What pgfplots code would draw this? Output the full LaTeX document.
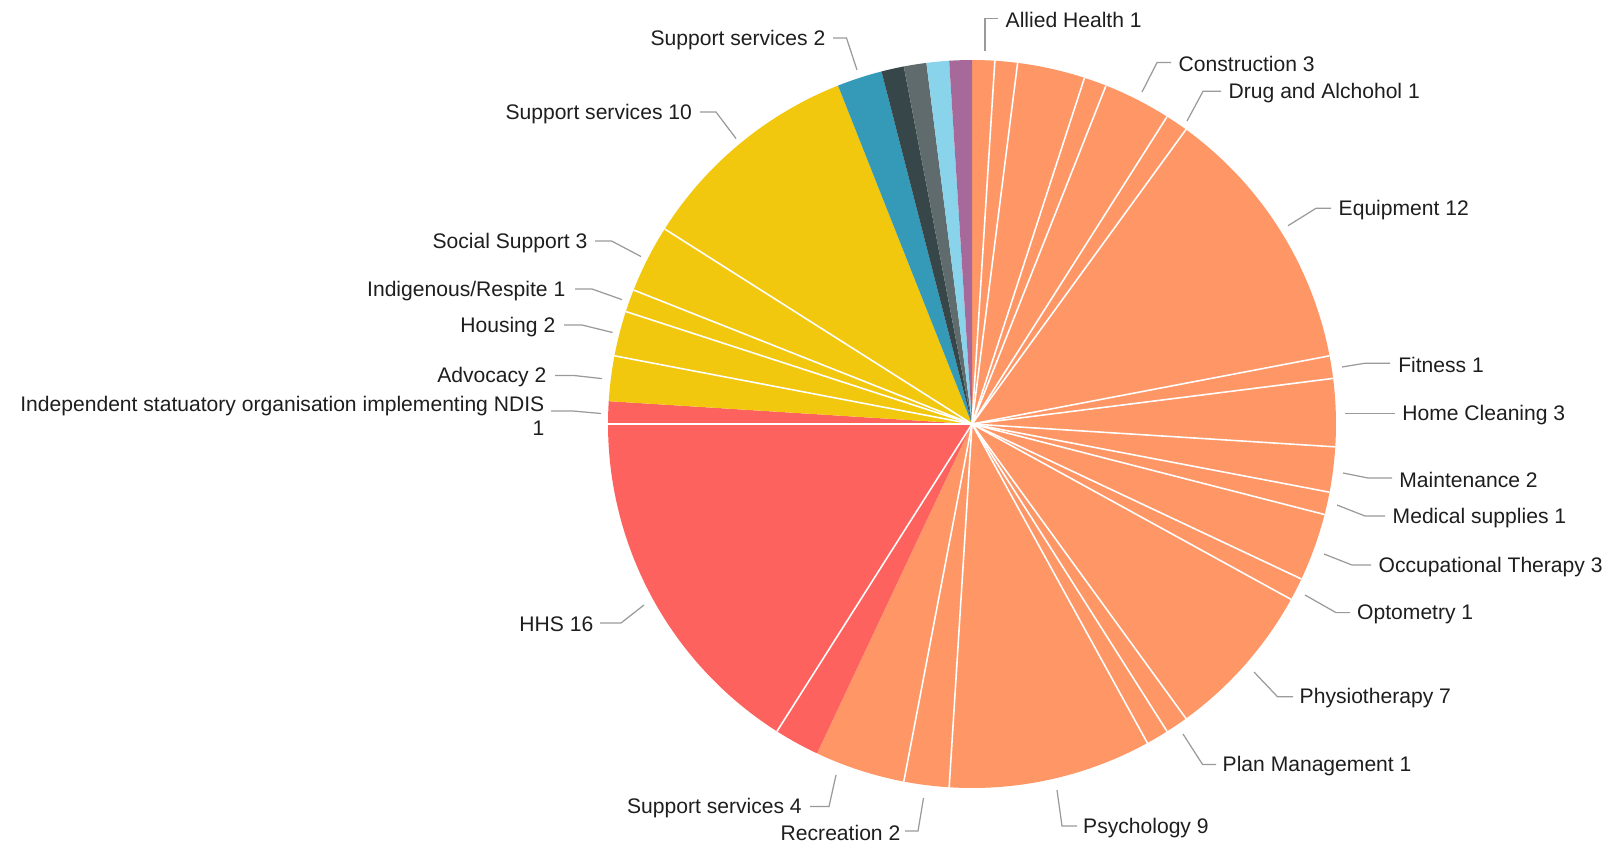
\documentclass[border=0pt]{standalone}
\usepackage{pgfplots}
\pgfplotsset{compat=1.18}
\usepackage{pgfplotstable}
\usepackage{fontspec}
\setmainfont{Liberation Sans}
\definecolor{cO}{HTML}{FE9666}
\definecolor{cR}{HTML}{FD625E}
\definecolor{cY}{HTML}{F2C80F}
\definecolor{cB}{HTML}{3599B8}
\definecolor{cD}{HTML}{374649}
\definecolor{cG}{HTML}{5F6B6D}
\definecolor{cL}{HTML}{8AD4EB}
\definecolor{cP}{HTML}{A66999}
\definecolor{txt}{HTML}{1E1E1E}
\definecolor{lead}{HTML}{9A9A9A}

\pgfplotstableread[col sep=comma]{
name,value,colour
Allied Health,1,cO
unlabelled,1,cO
unlabelled,3,cO
unlabelled,1,cO
Construction,3,cO
Drug and Alchohol,1,cO
Equipment,12,cO
Fitness,1,cO
Home Cleaning,3,cO
Maintenance,2,cO
Medical supplies,1,cO
Occupational Therapy,3,cO
Optometry,1,cO
Physiotherapy,7,cO
Plan Management,1,cO
unlabelled,1,cO
Psychology,9,cO
Recreation,2,cO
Support services,4,cO
unlabelled,2,cR
HHS,16,cR
Independent statuatory organisation implementing NDIS,1,cR
Advocacy,2,cY
Housing,2,cY
Indigenous/Respite,1,cY
Social Support,3,cY
Support services,10,cY
Support services,2,cB
unlabelled,1,cD
unlabelled,1,cG
unlabelled,1,cL
unlabelled,1,cP
}\piedata

\begin{document}
\begin{tikzpicture}[font=\fontsize{6.0}{6.8}\selectfont]
\begin{axis}[
  x=0.1mm, y=0.1mm,
  xmin=0, xmax=1609, ymin=0, ymax=844,
  y dir=reverse,
  hide axis, clip=false,
]
\path (axis cs:0,0) rectangle (axis cs:1609,844);
\pgfplotstablegetrowsof{\piedata}
\pgfmathtruncatemacro{\N}{\pgfplotsretval-1}
% sectors
\def\cum{0}
\pgfplotsforeachungrouped \i in {0,...,\N}{%
  \pgfplotstablegetelem{\i}{value}\of\piedata \edef\v{\pgfplotsretval}%
  \pgfplotstablegetelem{\i}{colour}\of\piedata \edef\c{\pgfplotsretval}%
  \pgfmathsetmacro{\a}{90-\cum*3.6}%
  \pgfmathsetmacro{\b}{90-(\cum+\v)*3.6}%
  \edef\temp{\noexpand\fill[\c] (axis cs:972,424) -- ++(\a:36.4mm) arc[start angle=\a, end angle=\b, radius=36.4mm] -- cycle;}%
  \temp
  \pgfmathsetmacro{\cum}{\cum+\v}%
}
% white separators between slices of the same colour
\def\cum{0}
\def\prevc{none}
\pgfplotsforeachungrouped \i in {0,...,\N}{%
  \pgfplotstablegetelem{\i}{value}\of\piedata \edef\v{\pgfplotsretval}%
  \pgfplotstablegetelem{\i}{colour}\of\piedata \edef\c{\pgfplotsretval}%
  \pgfmathsetmacro{\a}{90-\cum*3.6}%
  \ifx\c\prevc
    \edef\temp{\noexpand\draw[white, line width=0.45pt] (axis cs:972,424) -- ++(\a:36.4mm);}%
    \temp
  \fi
  \let\prevc\c
  \pgfmathsetmacro{\cum}{\cum+\v}%
}

% labels, right side
\tikzset{lab/.style={inner sep=0pt, text=txt, yshift=-0.17mm}, ld/.style={lead, line width=0.35pt}}
\draw[ld] (axis cs:985,51) -- (axis cs:985,18.5) -- (axis cs:998,18.5);
\node[lab, anchor=west] at (axis cs:1005,18.5) {Allied Health 1};
\draw[ld] (axis cs:1142,92) -- (axis cs:1157,62.6) -- (axis cs:1171,62.6);
\node[lab, anchor=west] at (axis cs:1178,62.6) {Construction 3};
\draw[ld] (axis cs:1187,121) -- (axis cs:1203,91.3) -- (axis cs:1221,91.3);
\node[lab, anchor=west] at (axis cs:1228,91.3) {Drug and Alchohol 1};
\draw[ld] (axis cs:1288,225.7) -- (axis cs:1316,208.3) -- (axis cs:1331,208.3);
\node[lab, anchor=west] at (axis cs:1338,208.3) {Equipment 12};
\draw[ld] (axis cs:1342,367) -- (axis cs:1365,363.2) -- (axis cs:1390,363.2);
\node[lab, anchor=west] at (axis cs:1397.6,363.2) {Fitness 1};
\draw[ld] (axis cs:1345,413.5) -- (axis cs:1395,413.5);
\node[lab, anchor=west] at (axis cs:1401.6,413.5) {Home Cleaning 3};
\draw[ld] (axis cs:1343,473) -- (axis cs:1368,478) -- (axis cs:1392,478);
\node[lab, anchor=west] at (axis cs:1398.6,478) {Maintenance 2};
\draw[ld] (axis cs:1337,505) -- (axis cs:1365,516) -- (axis cs:1385,516);
\node[lab, anchor=west] at (axis cs:1392,516) {Medical supplies 1};
\draw[ld] (axis cs:1324,554) -- (axis cs:1352,565) -- (axis cs:1371,565);
\node[lab, anchor=west] at (axis cs:1378,565) {Occupational Therapy 3};
\draw[ld] (axis cs:1305,595) -- (axis cs:1336,612.6) -- (axis cs:1350,612.6);
\node[lab, anchor=west] at (axis cs:1356.5,612.6) {Optometry 1};
\draw[ld] (axis cs:1254,672) -- (axis cs:1277.5,696.7) -- (axis cs:1293,696.7);
\node[lab, anchor=west] at (axis cs:1299,696.7) {Physiotherapy 7};
\draw[ld] (axis cs:1183,734) -- (axis cs:1202.6,764.5) -- (axis cs:1216,764.5);
\node[lab, anchor=west] at (axis cs:1222,764.5) {Plan Management 1};
\draw[ld] (axis cs:1057,790) -- (axis cs:1062,826) -- (axis cs:1077,826);
\node[lab, anchor=west] at (axis cs:1082.5,826) {Psychology 9};
% labels, left side
\draw[ld] (axis cs:923.5,798) -- (axis cs:918,831) -- (axis cs:905,831);
\node[lab, anchor=east] at (axis cs:901,831) {Recreation 2};
\draw[ld] (axis cs:836,775) -- (axis cs:829,806.5) -- (axis cs:810,806.5);
\node[lab, anchor=east] at (axis cs:802.4,806.5) {Support services 4};
\draw[ld] (axis cs:644,605) -- (axis cs:621,623) -- (axis cs:600,623);
\node[lab, anchor=east] at (axis cs:594,623) {HHS 16};
\draw[ld] (axis cs:551,411) -- (axis cs:573,411) -- (axis cs:601,413.5);
\node[lab, anchor=east, align=right] at (axis cs:545,414) {Independent statuatory organisation implementing NDIS\\1};
\draw[ld] (axis cs:555,375.6) -- (axis cs:575,375.6) -- (axis cs:602,378.6);
\node[lab, anchor=east] at (axis cs:547,375.6) {Advocacy 2};
\draw[ld] (axis cs:564,325) -- (axis cs:582,325) -- (axis cs:612.6,332.5);
\node[lab, anchor=east] at (axis cs:556,325) {Housing 2};
\draw[ld] (axis cs:575,289) -- (axis cs:592,289) -- (axis cs:622,299.6);
\node[lab, anchor=east] at (axis cs:566,289) {Indigenous/Respite 1};
\draw[ld] (axis cs:595,241) -- (axis cs:611.6,241) -- (axis cs:641,256.5);
\node[lab, anchor=east] at (axis cs:588,241) {Social Support 3};
\draw[ld] (axis cs:700,112) -- (axis cs:716,112) -- (axis cs:736,138.5);
\node[lab, anchor=east] at (axis cs:692.6,112) {Support services 10};
\draw[ld] (axis cs:833,38) -- (axis cs:846.5,38) -- (axis cs:857,70);
\node[lab, anchor=east] at (axis cs:826,38) {Support services 2};
\end{axis}
\end{tikzpicture}
\end{document}
